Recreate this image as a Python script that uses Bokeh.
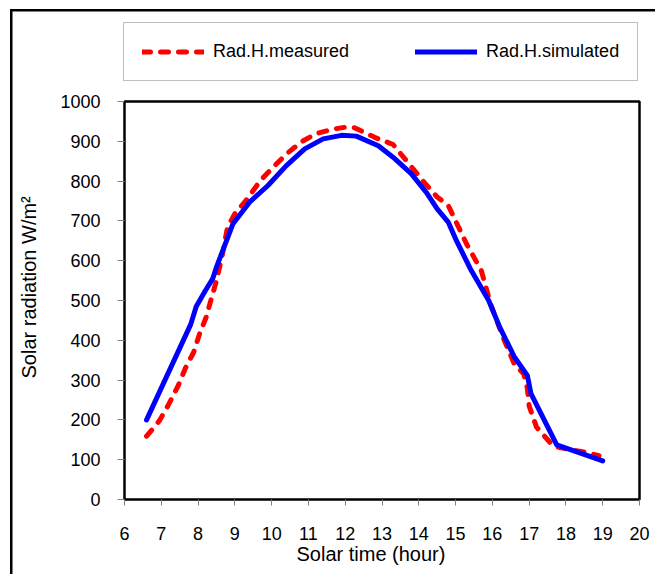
from bokeh.plotting import figure
from bokeh.models import Legend, LegendItem, FixedTicker, Range1d, Title
from bokeh.embed import file_html
from bokeh.resources import INLINE

# ---- data ----
measured_hour = [6.6, 6.95, 7.2, 7.45, 7.66, 7.88, 8.04, 8.22, 8.37, 8.5, 8.65, 8.8, 9.0,
                 9.3, 9.7, 10.0, 10.4, 10.8, 11.2, 11.7, 12.05, 12.25, 12.8, 13.3, 13.7,
                 14.1, 14.5, 14.8, 15.0, 15.3, 15.7, 15.95, 16.3, 16.6, 16.85, 16.95, 17.0,
                 17.2, 17.6, 17.8, 18.5, 18.9]
measured = [159, 198, 239, 284, 331, 370, 416, 458, 508, 550, 610, 684, 718,
            751, 802, 831, 868, 898, 919, 931, 936, 934, 910, 892, 847,
            802, 760, 739, 700, 642, 575, 492, 405, 340, 316, 280, 235,
            182, 140, 131, 119, 110]

simulated_hour = [6.6, 7.8, 7.95, 8.2, 8.4, 8.5, 8.95, 9.4, 9.9, 10.4, 10.9, 11.4, 11.9,
                  12.3, 12.9, 13.3, 13.8, 14.2, 14.5, 14.8, 15.0, 15.4, 15.9, 16.2, 16.6,
                  16.95, 17.05, 17.75, 19.0]
simulated = [200, 440, 485, 525, 555, 584, 693, 747, 789, 839, 881, 906, 915,
             913, 889, 860, 818, 772, 730, 697, 655, 580, 500, 433, 358,
             312, 266, 137, 97]

x_ticks = list(range(6, 21))
y_ticks = list(range(0, 1001, 100))

FONT = "Liberation Sans"

# layout (pixels): plot box 124..639 x 101..499; legend box sits above it inside the frame
PAD = 2
PX_PER_HOUR = 36.8
PX_PER_UNIT = 0.398
FRAME_TOP = 22

x_range = Range1d(x_ticks[0] - PAD / PX_PER_HOUR, x_ticks[-1] + PAD / PX_PER_HOUR)
y_range = Range1d(y_ticks[0] - PAD / PX_PER_UNIT, y_ticks[-1] + (101 - FRAME_TOP) / PX_PER_UNIT)

p = figure(width=655, height=574, output_backend="svg", toolbar_location=None,
           x_range=x_range, y_range=y_range,
           min_border_left=124 - PAD, min_border_right=655 - 639 - PAD,
           min_border_top=FRAME_TOP, min_border_bottom=574 - 499 - PAD)

# outer chart-area border (left and top edges visible; right/bottom cut off as in the reference)
p.border_fill_alpha = 0.0
p.styles = {"background": ("linear-gradient(#000, #000) 10px 9px / 2.5px 100% no-repeat, "
                           "linear-gradient(#000, #000) 10px 9px / 100% 2.5px no-repeat, #fff")}

p.xgrid.visible = False
p.ygrid.visible = False
p.outline_line_color = None
p.background_fill_color = "white"

# plot-area box spanning the axis extents
p.quad(left=[x_ticks[0]], right=[x_ticks[-1]], bottom=[y_ticks[0]], top=[y_ticks[-1]],
       fill_color=None, line_color="black", line_width=2.5)

r_meas = p.line(measured_hour, measured, line_color="#FF0000", line_width=5,
                line_dash="8 10", line_cap="round", line_join="round")
r_sim = p.line(simulated_hour, simulated, line_color="#0000FF", line_width=5,
               line_join="round", line_cap="round")

for ax in (p.xaxis[0], p.yaxis[0]):
    ax.axis_line_color = None
    ax.major_tick_line_color = "#808080"
    ax.major_tick_line_width = 1
    ax.major_tick_in = PAD
    ax.minor_tick_line_color = None
    ax.major_label_text_font = FONT
    ax.major_label_text_font_size = "18px"
    ax.major_label_text_color = "black"

p.xaxis.major_tick_out = 4
p.yaxis.major_tick_out = 5
p.xaxis.ticker = FixedTicker(ticks=x_ticks)
p.yaxis.ticker = FixedTicker(ticks=y_ticks)
p.xaxis.major_label_standoff = 21
p.yaxis.major_label_standoff = 17

# axis titles placed as side titles so they sit where the reference has them
ytitle = Title(text="Solar radiation W/m²", align="left", offset=123,
               vertical_align="top", standoff=32,
               text_font=FONT, text_font_size="20px", text_font_style="normal",
               text_color="black")
p.add_layout(ytitle, "left")

xtitle = Title(text="Solar time (hour)", align="left", offset=174,
               vertical_align="top", standoff=0,
               text_font=FONT, text_font_size="20px", text_font_style="normal",
               text_color="black")
p.add_layout(xtitle, "below")

legend = Legend(items=[LegendItem(label="Rad.H.measured", renderers=[r_meas]),
                       LegendItem(label="Rad.H.simulated", renderers=[r_sim])],
                orientation="horizontal", location=(1, 499 + PAD - 81))
legend.label_text_font = FONT
legend.label_text_font_size = "18px"
legend.label_text_color = "black"
legend.glyph_width = 62
legend.glyph_height = 21
legend.label_height = 21
legend.label_standoff = 9
legend.spacing = 66
legend.padding = 18
legend.border_line_color = "#808080"
legend.border_line_width = 1
legend.background_fill_color = "white"
legend.background_fill_alpha = 1.0
legend.margin = 0
p.add_layout(legend, "center")

open("out.html", "w").write(file_html(p, INLINE))
